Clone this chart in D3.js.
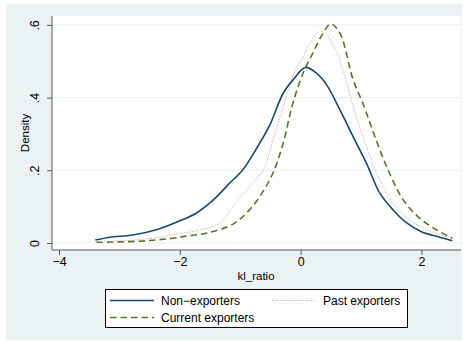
<!DOCTYPE html>
<html>
<head>
<meta charset="utf-8">
<script src="https://cdn.jsdelivr.net/npm/d3@7"></script>
<style>
  html, body { margin: 0; padding: 0; background: #ffffff; }
  svg { display: block; }
  text { font-family: "Liberation Sans", Arial, sans-serif; fill: #000; }
</style>
</head>
<body>
<svg id="chart" width="467" height="341"></svg>
<script>
// Kernel density estimates of kl_ratio by export status
const nonX = [-3.40,-3.16,-2.78,-2.36,-2.00,-1.73,-1.45,-1.18,-0.96,-0.73,-0.51,-0.29,-0.13,0.08,0.26,0.43,0.65,0.87,1.09,1.31,1.53,1.75,2.00,2.30,2.51];
const nonY = [0.008,0.016,0.022,0.038,0.061,0.082,0.118,0.164,0.201,0.260,0.325,0.412,0.448,0.483,0.467,0.435,0.366,0.292,0.219,0.137,0.091,0.056,0.031,0.016,0.006];

const pastX = [-3.38,-2.78,-2.34,-2.00,-1.67,-1.34,-1.12,-0.85,-0.62,-0.46,-0.29,-0.13,0.04,0.18,0.33,0.51,0.70,0.87,1.09,1.31,1.53,1.81,2.14,2.51];
const pastY = [0.003,0.008,0.016,0.026,0.036,0.054,0.100,0.155,0.200,0.283,0.375,0.458,0.513,0.558,0.583,0.554,0.476,0.375,0.265,0.173,0.109,0.063,0.033,0.012];

const curX = [-3.38,-2.67,-2.12,-1.89,-1.56,-1.12,-0.90,-0.68,-0.46,-0.29,-0.13,0.04,0.20,0.37,0.50,0.65,0.87,1.03,1.25,1.47,1.70,1.97,2.25,2.51];
const curY = [0.002,0.005,0.013,0.019,0.027,0.052,0.082,0.127,0.192,0.274,0.384,0.467,0.522,0.577,0.603,0.577,0.448,0.384,0.283,0.192,0.118,0.068,0.036,0.013];

const xTicks = [-4, -2, 0, 2];
const yTicks = [0, 0.2, 0.4, 0.6];
const yTickLabels = ["0", ".2", ".4", ".6"];
const seriesNames = ["Non\u2212exporters", "Past exporters", "Current exporters"];

const svg = d3.select("#chart");

// outer graph region
svg.append("rect").attr("x", 6).attr("y", 4).attr("width", 456).attr("height", 336)
  .attr("fill", "#eaf2f3");

const plot = { left: 52, right: 461, top: 16, bottom: 250 };
svg.append("rect").attr("x", plot.left).attr("y", plot.top)
  .attr("width", plot.right - plot.left).attr("height", plot.bottom - plot.top)
  .attr("fill", "#ffffff");

const x = d3.scaleLinear().domain([-4, 2]).range([59, 421.5]);
const y = d3.scaleLinear().domain([0, 0.6]).range([243, 24.9]);

// horizontal grid
svg.append("g").selectAll("line").data(yTicks).join("line")
  .attr("x1", plot.left).attr("x2", plot.right)
  .attr("y1", d => y(d)).attr("y2", d => y(d))
  .attr("stroke", "#eaf2f3").attr("stroke-width", 1.2);

// y axis
const yAxis = svg.append("g").attr("transform", `translate(${plot.left},0)`)
  .call(d3.axisLeft(y).tickValues(yTicks).tickFormat((d, i) => yTickLabels[i]).tickSize(5).tickPadding(7));
yAxis.select(".domain").attr("d", `M0,${plot.top}V${plot.bottom}`).attr("stroke", "#555");
yAxis.selectAll(".tick line").attr("stroke", "#555");
yAxis.selectAll(".tick text")
  .attr("transform", "rotate(-90)")
  .attr("x", 0).attr("y", -13)
  .attr("dy", 0)
  .attr("text-anchor", "middle")
  .style("font-size", "12.5px")
  .style("font-family", "'Liberation Sans', Arial, sans-serif");

// x axis
const xAxis = svg.append("g").attr("transform", `translate(0,${plot.bottom})`)
  .call(d3.axisBottom(x).tickValues(xTicks).tickFormat(d => d < 0 ? "\u2212" + Math.abs(d) : String(d)).tickSize(5).tickPadding(2));
xAxis.select(".domain").attr("d", `M${plot.left},0H${plot.right}`).attr("stroke", "#555");
xAxis.selectAll(".tick line").attr("stroke", "#555");
xAxis.selectAll(".tick text")
  .style("font-size", "12.5px")
  .style("font-family", "'Liberation Sans', Arial, sans-serif");

// axis titles
svg.append("text").attr("x", 256).attr("y", 280).attr("text-anchor", "middle")
  .style("font-size", "11.5px").text("kl_ratio");
svg.append("text").attr("transform", "translate(29,133) rotate(-90)").attr("text-anchor", "middle")
  .style("font-size", "11.5px").text("Density");

// density curves
const line = d3.line().x(d => x(d[0])).y(d => y(d[1])).curve(d3.curveCatmullRom.alpha(0.5));
const styles = [
  { color: "#1a476f", width: 1.6, dash: null },
  { color: "#d9929c", width: 1.0, dash: "1 1.6" },
  { color: "#55752f", width: 1.6, dash: "6.5 4" }
];
const series = [d3.zip(nonX, nonY), d3.zip(pastX, pastY), d3.zip(curX, curY)];
const drawOrder = [2, 1, 0];
drawOrder.forEach(i => {
  svg.append("path").datum(series[i]).attr("d", line)
    .attr("fill", "none").attr("stroke", styles[i].color)
    .attr("stroke-width", styles[i].width)
    .attr("stroke-dasharray", styles[i].dash);
});

// legend
const lg = svg.append("g");
lg.append("rect").attr("x", 105.5).attr("y", 289.5).attr("width", 302).attr("height", 38)
  .attr("fill", "#ffffff").attr("stroke", "#000").attr("stroke-width", 1);
const items = [
  { i: 0, lx: 110, tx: 161, yy: 300.5 },
  { i: 1, lx: 272, tx: 323, yy: 300.5 },
  { i: 2, lx: 110, tx: 161, yy: 317.5 }
];
items.forEach(it => {
  const s = styles[it.i];
  lg.append("line").attr("x1", it.lx).attr("x2", it.lx + 44)
    .attr("y1", it.yy).attr("y2", it.yy)
    .attr("stroke", s.color).attr("stroke-width", s.width)
    .attr("stroke-dasharray", s.dash);
  lg.append("text").attr("x", it.tx).attr("y", it.yy + 4.5)
    .style("font-size", "12px").text(seriesNames[it.i]);
});
</script>
</body>
</html>
